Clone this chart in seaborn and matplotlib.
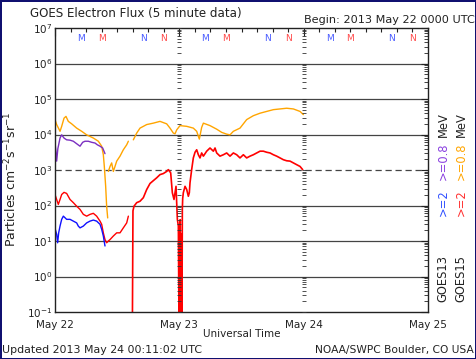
import numpy as np
import pandas as pd
import matplotlib
matplotlib.use("Agg")
import matplotlib.pyplot as plt
import matplotlib.transforms as mtransforms
import seaborn as sns

# ---------------- data (hours since 2013-05-22 00:00 UT, log10 flux) ----------------
g13_08_t = [0.0, 0.15, 0.32, 0.55, 0.97, 1.29, 1.74, 2.25, 2.90, 3.54, 4.18, 4.83, 5.34, 5.79,
            6.43, 7.08, 7.72, 8.17, 8.69, 9.20, 9.65]
g13_08_log = [3.76, 3.57, 3.25, 3.60, 3.90, 3.99, 3.90, 3.85, 3.84, 3.81, 3.74, 3.67, 3.78, 3.81,
              3.81, 3.78, 3.76, 3.71, 3.67, 3.62, 3.46]

g13_2_t = [0.0, 0.05, 0.32, 0.51, 0.71, 0.97, 1.29, 1.61, 2.25, 2.90, 3.54, 4.18, 4.50, 4.83,
           5.47, 6.11, 6.76, 7.40, 8.04, 8.69, 9.01, 9.33, 9.65]
g13_2_log = [1.37, 1.33, 1.19, 0.95, 1.23, 1.42, 1.61, 1.70, 1.61, 1.61, 1.56, 1.51, 1.42, 1.37,
             1.42, 1.51, 1.56, 1.59, 1.56, 1.47, 1.33, 1.14, 0.86]

# GOES15 >=0.8 MeV, three segments separated by data gaps
g15_08_seg1_t = [0.0, 0.32, 0.97, 1.29, 1.74, 2.12, 2.57, 3.22, 4.18, 5.15, 6.11, 7.40, 8.37,
                 9.01, 9.33, 9.52, 9.78, 9.97, 10.17]
g15_08_seg1_log = [4.42, 4.28, 4.09, 4.23, 4.46, 4.51, 4.37, 4.30, 4.18, 4.09, 3.99, 3.90, 3.81,
                   3.67, 3.43, 3.10, 2.54, 1.98, 1.65]
g15_08_seg2_t = [10.30, 10.62, 10.94, 11.26, 11.58, 11.91, 12.55, 13.19, 13.84, 14.16]
g15_08_seg2_log = [2.96, 3.10, 3.20, 2.96, 3.10, 3.25, 3.39, 3.57, 3.71, 3.81]
g15_08_seg3_t = [15.12, 15.77, 16.41, 17.70, 18.98, 20.27, 21.56, 22.20, 22.84, 23.17, 23.49,
                 24.13, 25.42, 26.70, 27.35, 27.86, 28.31, 28.64, 29.92, 31.21, 32.18, 33.14,
                 33.78, 34.43, 35.71, 37.00, 38.29, 39.58, 40.86, 42.15, 43.44, 44.72, 46.01,
                 47.30, 47.94]
g15_08_seg3_log = [3.85, 4.04, 4.18, 4.28, 4.32, 4.37, 4.30, 4.18, 4.04, 4.02, 4.13,
                   4.25, 4.23, 4.18, 4.09, 3.87, 4.20, 4.32, 4.25, 4.15, 4.06, 4.01,
                   3.99, 4.09, 4.18, 4.42, 4.53, 4.60, 4.65, 4.70, 4.72, 4.74, 4.72,
                   4.65, 4.56]

# GOES15 >=2 MeV, two segments
g15_2_seg1_t = [0.0, 0.32, 0.64, 0.97, 1.29, 1.74, 2.25, 2.90, 3.54, 4.18, 4.83, 5.47, 6.11,
                6.76, 7.40, 8.04, 8.69, 9.01, 9.33, 9.65, 9.97, 10.30, 10.62, 11.26, 11.91,
                12.55, 13.19, 13.84, 14.16]
g15_2_seg1_log = [2.31, 2.17, 2.03, 2.17, 2.31, 2.37, 2.34, 2.17, 2.08, 1.98, 1.89, 1.75, 1.70,
                  1.75, 1.78, 1.70, 1.56, 1.47, 1.23, 1.04, 0.95, 1.00, 1.04, 1.14, 1.23,
                  1.23, 1.37, 1.51, 1.70]
g15_2_seg2_t = [14.95, 15.05, 15.25, 15.77, 16.41, 17.05, 17.70, 18.34, 18.98, 19.63, 20.27,
                20.91, 21.56, 21.88, 22.33, 22.65, 22.97, 23.36, 23.62, 23.81, 23.92, 23.97,
                24.02, 24.07, 24.12, 24.17, 24.22, 24.27, 24.32, 24.37, 24.42, 24.47, 24.52,
                24.58, 24.65, 24.77, 25.10, 25.42, 25.74, 25.93, 26.06, 26.38, 26.70, 27.03,
                27.35, 27.67, 27.99, 28.31, 28.64, 29.28, 29.92, 30.57, 30.89, 31.21, 31.85,
                32.50, 33.14, 33.78, 34.43, 35.07, 35.71, 36.36, 37.00, 37.64, 38.29, 38.93,
                39.58, 40.22, 40.86, 41.51, 42.15, 42.79, 43.44, 44.08, 44.72, 45.37, 46.01,
                46.65, 47.30, 47.81]
g15_2_seg2_log = [-1.00, 1.85, 1.98, 2.08, 2.12, 2.22, 2.45, 2.62, 2.70, 2.78, 2.87,
                  2.90, 2.96, 3.01, 2.92, 2.36, 2.17, 2.54, 1.61, 1.42, -1.00, 1.00,
                  -1.00, 0.80, -1.00, 1.60, -1.00, 1.00, -1.00, 0.90, -1.00, 1.20, -1.00,
                  1.90, 2.20, 2.36, 2.54, 2.45, 2.26, 2.36, 2.64, 3.01, 3.34, 3.50,
                  3.57, 3.43, 3.34, 3.48, 3.39, 3.53, 3.62, 3.53, 3.62, 3.48, 3.39,
                  3.43, 3.48, 3.39, 3.48, 3.43, 3.34, 3.43, 3.34, 3.39, 3.43, 3.48,
                  3.53, 3.53, 3.50, 3.48, 3.43, 3.39, 3.34, 3.29, 3.26, 3.25, 3.20,
                  3.15, 3.10, 3.01]

# local midnight (M) / noon (N) markers, hours after each UT midnight
mn_hours = [5, 9, 17, 21]
mn_letters = ["M", "M", "N", "N"]
mn_colors = ["#4a5cff", "#ff4a4a", "#4a5cff", "#ff4a4a"]
day_labels = ["May 22", "May 23", "May 24", "May 25"]
day_hours = [0, 24, 48, 72]
decades = [-1, 0, 1, 2, 3, 4, 5, 6, 7]

C_PURPLE = "#7b2fc0"
C_BLUE = "#1010ff"
C_ORANGE = "#ffa500"
C_RED = "#ff0000"

# ---------------- figure ----------------
sns.set_theme(style="white")
plt.rcParams["font.family"] = ["DejaVu Sans"]

fig = plt.figure(figsize=(4.76, 3.59), dpi=100)
fig.patch.set_facecolor("white")
fig.patch.set_edgecolor("#101070")
fig.patch.set_linewidth(2)

x0, x1, ytop, ybot = 55, 428, 28, 312
ax = fig.add_axes([x0 / 476, 1 - ybot / 359, (x1 - x0) / 476, (ybot - ytop) / 359])
ax.set_facecolor("white")

def seg(t, lg, color, lw=1.0):
    df = pd.DataFrame({"t": t, "flux": 10.0 ** np.asarray(lg)})
    sns.lineplot(data=df, x="t", y="flux", color=color, lw=lw, ax=ax,
                 estimator=None, sort=False)

seg(g15_08_seg1_t, g15_08_seg1_log, C_ORANGE)
seg(g15_08_seg2_t, g15_08_seg2_log, C_ORANGE)
seg(g15_08_seg3_t, g15_08_seg3_log, C_ORANGE)
seg(g13_08_t, g13_08_log, C_PURPLE)
seg(g15_2_seg1_t, g15_2_seg1_log, C_RED)
seg(g15_2_seg2_t, g15_2_seg2_log, C_RED, lw=1.2)
seg(g13_2_t, g13_2_log, C_BLUE)

ax.set_yscale("log")
ax.set_ylim(10.0 ** decades[0], 10.0 ** decades[-1])
ax.set_xlim(day_hours[0], day_hours[-1])

# decade lines
for d in decades[1:-1]:
    if d == 3:
        ax.axhline(10.0 ** d, color="#444444", lw=0.9, ls=(0, (5, 3)), zorder=0.5)
    else:
        ax.axhline(10.0 ** d, color="#444444", lw=0.9, zorder=0.5)

# inner tick columns at day boundaries
minor_vals = np.array([m * 10.0 ** d for d in decades[:-1] for m in range(1, 10)] + [10.0 ** decades[-1]])
for h in day_hours[1:-1]:
    ax.plot(np.full(minor_vals.shape, h), minor_vals, ls="none", marker="_", ms=3,
            mew=0.6, color="#333333", zorder=3)

# ticks
ax.set_xticks(day_hours)
ax.set_xticklabels(day_labels, fontsize=7.5)
ax.set_xticks(np.arange(0, 73, 3), minor=True)
ax.set_yticks([10.0 ** d for d in decades])
ax.set_yticklabels([f"$10^{{{d}}}$" for d in decades], fontsize=7.5)
ax.yaxis.set_minor_locator(matplotlib.ticker.LogLocator(base=10, subs=np.arange(2, 10), numticks=20))
ax.yaxis.set_minor_formatter(matplotlib.ticker.NullFormatter())
ax.tick_params(axis="both", which="both", direction="in", top=True, right=True,
               colors="#222222", labelcolor="#222222")
ax.tick_params(axis="x", which="major", length=6, width=0.8, pad=6)
ax.tick_params(axis="x", which="minor", length=3, width=0.8)
ax.tick_params(axis="y", which="major", length=5, width=0.8, pad=2)
ax.tick_params(axis="y", which="minor", length=3, width=0.6)
for s in ax.spines.values():
    s.set_color("#222222")
    s.set_linewidth(1.0)
ax.set_xlabel("Universal Time", fontsize=7.5, labelpad=-1, color="#222222")
ax.set_ylabel("")

# M/N letters
trans = mtransforms.blended_transform_factory(ax.transData, ax.transAxes)
for d in day_hours[:-1]:
    for h, let, c in zip(mn_hours, mn_letters, mn_colors):
        ax.text(d + h, 0.962, let, transform=trans, color=c, fontsize=6.5,
                ha="center", va="center")

# outer texts
fig.text(30 / 476, 1 - 14 / 359, "GOES Electron Flux (5 minute data)", fontsize=8.6,
         ha="left", va="center", color="#222222")
fig.text(475 / 476, 1 - 20 / 359, "Begin: 2013 May 22 0000 UTC", fontsize=8.1,
         ha="right", va="center", color="#222222")
fig.text(2 / 476, 1 - 350 / 359, "Updated 2013 May 24 00:11:02 UTC", fontsize=7.9,
         ha="left", va="center", color="#222222")
fig.text(474 / 476, 1 - 350 / 359, "NOAA/SWPC Boulder, CO USA", fontsize=7.7,
         ha="right", va="center", color="#222222")
fig.text(11 / 476, 1 - 179 / 359, "Particles cm$^{-2}$s$^{-1}$sr$^{-1}$", fontsize=9,
         rotation=90, ha="center", va="center", color="#222222")

# right-side legend columns
cols = [(443, "GOES13", "#8a40e0", "#3050ff"), (461, "GOES15", C_ORANGE, "#ff3030")]
for xpix, name, c08, c2 in cols:
    fx = xpix / 476
    fig.text(fx, 1 - 125 / 359, "MeV", rotation=90, fontsize=8.3, ha="center", va="center", color="#222222")
    fig.text(fx, 1 - 161 / 359, ">=0.8", rotation=90, fontsize=8.3, ha="center", va="center", color=c08)
    fig.text(fx, 1 - 203 / 359, ">=2", rotation=90, fontsize=8.3, ha="center", va="center", color=c2)
    fig.text(fx, 1 - 279 / 359, name, rotation=90, fontsize=8.3, ha="center", va="center", color="#222222")

fig.savefig("out.png", dpi=100, facecolor=fig.get_facecolor(), edgecolor=fig.get_edgecolor())
